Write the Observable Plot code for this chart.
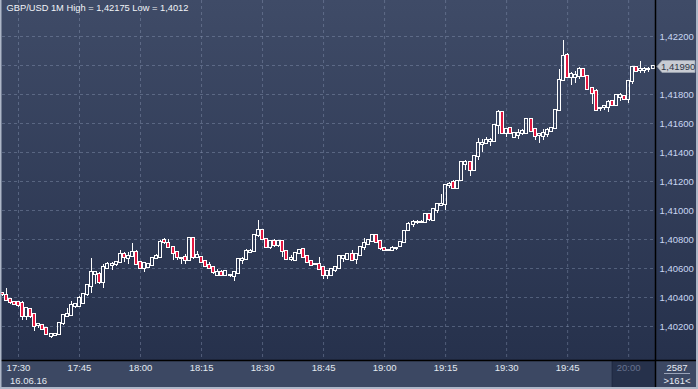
<!DOCTYPE html>
<html><head><meta charset="utf-8">
<script src="https://cdn.jsdelivr.net/npm/d3@7"></script>
<script src="https://cdn.jsdelivr.net/npm/@observablehq/plot@0.6"></script>
<style>
html,body{margin:0;padding:0;background:#3c4863;overflow:hidden;}
#chart{width:698px;height:389px;}
svg{display:block}
</style></head><body><div id="chart"></div>
<script>
const symbolTitle = "GBP/USD 1M High = 1,42175 Low = 1,4012";
const firstCandleMinute = -4; // minutes after 17:30 of the first candle
const openPrices = [
1.40425,1.40413,1.40385,1.40367,1.40365,1.40358,1.40270,1.40316,1.40280,1.40210,
1.40206,1.40183,1.40128,1.40137,1.40146,1.40224,1.40270,1.40275,1.40340,1.40335,
1.40362,1.40422,1.40477,1.40560,1.40560,1.40505,1.40602,1.40620,1.40625,1.40643,
1.40698,1.40671,1.40684,1.40712,1.40643,1.40597,1.40606,1.40620,1.40671,1.40675,
1.40795,1.40774,1.40746,1.40709,1.40668,1.40673,1.40654,1.40806,1.40677,1.40677,
1.40645,1.40622,1.40604,1.40553,1.40572,1.40549,1.40549,1.40544,1.40567,1.40655,
1.40664,1.40710,1.40719,1.40825,1.40861,1.40802,1.40746,1.40783,1.40760,1.40783,
1.40714,1.40660,1.40654,1.40705,1.40728,1.40682,1.40650,1.40627,1.40627,1.40604,
1.40549,1.40555,1.40585,1.40600,1.40666,1.40661,1.40694,1.40661,1.40689,1.40744,
1.40767,1.40786,1.40827,1.40786,1.40740,1.40726,1.40726,1.40740,1.40749,1.40776,
1.40859,1.40905,1.40917,1.40917,1.40919,1.40970,1.40933,1.41002,1.41034,1.41038,
1.41172,1.41190,1.41154,1.41204,1.41319,1.41328,1.41273,1.41374,1.41453,1.41462,
1.41476,1.41476,1.41588,1.41676,1.41528,1.41565,1.41506,1.41515,1.41533,1.41533,
1.41625,1.41556,1.41515,1.41510,1.41524,1.41547,1.41565,1.41690,1.41896,1.42071,
1.41915,1.41920,1.41924,1.41975,1.41924,1.41841,1.41823,1.41703,1.41708,1.41713,
1.41750,1.41727,1.41782,1.41786,1.41768,1.41892,1.41984,1.41966,1.41966,1.41971,
1.41980];
const highPrices = [
1.40436,1.40464,1.40387,1.40369,1.40372,1.40372,1.40323,1.40318,1.40282,1.40224,
1.40208,1.40185,1.40144,1.40155,1.40226,1.40280,1.40321,1.40372,1.40362,1.40408,
1.40428,1.40484,1.40671,1.40579,1.40574,1.40629,1.40638,1.40638,1.40648,1.40726,
1.40707,1.40712,1.40772,1.40721,1.40648,1.40643,1.40632,1.40675,1.40698,1.40795,
1.40809,1.40802,1.40748,1.40712,1.40675,1.40696,1.40810,1.40810,1.40714,1.40680,
1.40648,1.40641,1.40613,1.40590,1.40585,1.40580,1.40553,1.40576,1.40668,1.40677,
1.40728,1.40733,1.40833,1.40930,1.40865,1.40806,1.40792,1.40797,1.40787,1.40787,
1.40717,1.40687,1.40710,1.40733,1.40733,1.40685,1.40653,1.40630,1.40673,1.40608,
1.40580,1.40595,1.40615,1.40685,1.40685,1.40696,1.40721,1.40700,1.40749,1.40804,
1.40800,1.40832,1.40832,1.40790,1.40744,1.40728,1.40749,1.40744,1.40779,1.40860,
1.40919,1.40933,1.40933,1.40928,1.40980,1.40975,1.41010,1.41043,1.41112,1.41176,
1.41190,1.41209,1.41204,1.41332,1.41342,1.41333,1.41379,1.41494,1.41489,1.41503,
1.41494,1.41591,1.41689,1.41680,1.41565,1.41570,1.41533,1.41561,1.41556,1.41630,
1.41630,1.41560,1.41529,1.41561,1.41565,1.41574,1.41694,1.41975,1.42175,1.42085,
1.41952,1.41957,1.41984,1.41980,1.41929,1.41846,1.41832,1.41713,1.41722,1.41759,
1.41754,1.41796,1.41805,1.41791,1.41896,1.41993,1.41989,1.42030,1.41984,1.41989,
1.41992];
const lowPrices = [
1.40408,1.40374,1.40349,1.40347,1.40330,1.40241,1.40238,1.40252,1.40167,1.40188,
1.40169,1.40137,1.40120,1.40128,1.40144,1.40206,1.40264,1.40270,1.40326,1.40328,
1.40358,1.40408,1.40427,1.40491,1.40491,1.40464,1.40592,1.40583,1.40611,1.40634,
1.40638,1.40625,1.40684,1.40620,1.40592,1.40569,1.40602,1.40615,1.40666,1.40666,
1.40767,1.40741,1.40654,1.40654,1.40627,1.40631,1.40650,1.40659,1.40673,1.40636,
1.40608,1.40590,1.40562,1.40549,1.40549,1.40549,1.40539,1.40512,1.40562,1.40631,
1.40654,1.40700,1.40714,1.40815,1.40792,1.40741,1.40728,1.40742,1.40742,1.40673,
1.40655,1.40650,1.40650,1.40700,1.40668,1.40636,1.40613,1.40624,1.40590,1.40526,
1.40526,1.40545,1.40575,1.40595,1.40643,1.40657,1.40655,1.40629,1.40684,1.40726,
1.40758,1.40781,1.40772,1.40721,1.40717,1.40721,1.40717,1.40721,1.40746,1.40772,
1.40855,1.40882,1.40905,1.40910,1.40915,1.40924,1.40928,1.40979,1.41025,1.41002,
1.41149,1.41144,1.41149,1.41200,1.41273,1.41236,1.41269,1.41342,1.41402,1.41453,
1.41439,1.41472,1.41524,1.41524,1.41506,1.41524,1.41501,1.41492,1.41515,1.41528,
1.41543,1.41483,1.41464,1.41483,1.41506,1.41543,1.41561,1.41680,1.41892,1.41910,
1.41864,1.41878,1.41901,1.41915,1.41832,1.41731,1.41685,1.41685,1.41690,1.41676,
1.41722,1.41717,1.41750,1.41764,1.41740,1.41869,1.41952,1.41943,1.41948,1.41952,
1.41975];
const closePrices = [
1.40420,1.40376,1.40367,1.40349,1.40344,1.40270,1.40321,1.40270,1.40201,1.40214,
1.40178,1.40142,1.40142,1.40146,1.40224,1.40275,1.40280,1.40344,1.40353,1.40395,
1.40424,1.40482,1.40569,1.40569,1.40500,1.40606,1.40629,1.40629,1.40638,1.40698,
1.40675,1.40680,1.40707,1.40629,1.40602,1.40634,1.40629,1.40666,1.40684,1.40776,
1.40776,1.40746,1.40705,1.40673,1.40672,1.40654,1.40806,1.40677,1.40691,1.40641,
1.40613,1.40599,1.40572,1.40572,1.40553,1.40576,1.40549,1.40572,1.40664,1.40664,
1.40719,1.40719,1.40829,1.40861,1.40797,1.40746,1.40788,1.40760,1.40783,1.40714,
1.40659,1.40668,1.40705,1.40723,1.40673,1.40641,1.40618,1.40627,1.40595,1.40549,
1.40576,1.40590,1.40610,1.40680,1.40680,1.40694,1.40657,1.40698,1.40744,1.40772,
1.40795,1.40827,1.40781,1.40740,1.40721,1.40726,1.40740,1.40740,1.40776,1.40855,
1.40901,1.40914,1.40919,1.40919,1.40970,1.40937,1.41006,1.41039,1.41043,1.41172,
1.41181,1.41149,1.41200,1.41328,1.41333,1.41273,1.41370,1.41462,1.41462,1.41485,
1.41480,1.41586,1.41676,1.41528,1.41561,1.41528,1.41529,1.41529,1.41542,1.41625,
1.41547,1.41510,1.41524,1.41529,1.41551,1.41565,1.41689,1.41896,1.42062,1.41915,
1.41938,1.41934,1.41975,1.41924,1.41837,1.41809,1.41690,1.41703,1.41717,1.41745,
1.41727,1.41791,1.41791,1.41768,1.41892,1.41984,1.41961,1.41971,1.41971,1.41975,
1.41990];
const priceTicks = [1.402,1.404,1.406,1.408,1.410,1.412,1.414,1.416,1.418,1.420,1.422];
const timeTickMinutes = [0,15,30,45,60,75,90,105,120,135,150];
const timeTickLabels = ["17:30","17:45","18:00","18:15","18:30","18:45","19:00","19:15","19:30","19:45","20:00"];
const dateLabel = "16.06.16";
const lastPrice = 1.41990;
const lastPriceLabel = "1,41990";
const volumeLabel = "2587";
const barCountLabel = ">161<";

const candles = openPrices.map((o, i) => ({
  t: firstCandleMinute + i, o, h: highPrices[i], l: lowPrices[i], c: closePrices[i]
}));
const up = candles.filter(d => d.c >= d.o);
const down = candles.filter(d => d.c < d.o);
// the 1,42000 label is hidden behind the last-price tag in the reference
const labelledTicks = priceTicks.filter(v => Math.abs(v - lastPrice) > 0.0005);
const fmt = v => d3.format(".5f")(v).replace(".", ",");
const FONT = "'Liberation Sans', Arial, sans-serif";

function background(index, scales, values, dims) {
  const fb = dims.height - dims.marginBottom;
  const fr = dims.width - dims.marginRight;
  const bx = scales.x(150) - 16;
  const g = d3.create("svg:g");
  const grad = g.append("defs").append("linearGradient")
    .attr("id", "bgGrad").attr("x1", 0).attr("y1", 0).attr("x2", 0).attr("y2", 1);
  grad.append("stop").attr("offset", 0).attr("stop-color", "#3f4b67");
  grad.append("stop").attr("offset", 1).attr("stop-color", "#26314c");
  g.append("rect").attr("x", 0).attr("y", 0).attr("width", dims.width).attr("height", fb).attr("fill", "url(#bgGrad)");
  g.append("rect").attr("x", 0).attr("y", fb).attr("width", dims.width).attr("height", dims.marginBottom).attr("fill", "#3c4863");
  g.append("rect").attr("x", bx).attr("y", fb).attr("width", fr - bx).attr("height", dims.marginBottom).attr("fill", "#26314b");
  g.append("line").attr("x1", bx).attr("x2", bx).attr("y1", fb).attr("y2", dims.height).attr("stroke", "#1e2840");
  return g.node();
}

function chrome(index, scales, values, dims) {
  const fb = dims.height - dims.marginBottom;
  const fr = dims.width - dims.marginRight;
  const W = dims.width, H = dims.height;
  const yp = Math.round(scales.y(lastPrice)) + 0.5;
  const g = d3.create("svg:g").attr("font-family", FONT).attr("font-size", 9.5);
  g.append("line").attr("x1", 0).attr("x2", W).attr("y1", fb + 0.5).attr("y2", fb + 0.5).attr("stroke", "#000").attr("stroke-width", 1.5);
  g.append("line").attr("x1", fr + 0.5).attr("x2", fr + 0.5).attr("y1", 0).attr("y2", H).attr("stroke", "#000").attr("stroke-width", 1.5);
  g.append("path")
    .attr("d", `M${fr + 2},${yp} L${fr + 7},${yp - 6} L${W - 3},${yp - 6} L${W - 3},${yp + 6} L${fr + 7},${yp + 6} Z`)
    .attr("fill", "#c8ccd3").attr("stroke", "#9ba2ae").attr("stroke-width", 0.8);
  g.append("text").attr("x", fr + 6).attr("y", yp).attr("text-anchor", "start")
    .attr("dominant-baseline", "central").attr("fill", "#2f3747").text(lastPriceLabel);
  g.append("line").attr("x1", fr + 9).attr("x2", W - 8).attr("y1", fb + 13.5).attr("y2", fb + 13.5)
    .attr("stroke", "#9aa4b8");
  g.append("rect").attr("x", 0).attr("y", 0).attr("width", 1.5).attr("height", H).attr("fill", "#aeb7c8");
  g.append("rect").attr("x", W - 2).attr("y", 0).attr("width", 2).attr("height", H).attr("fill", "#aeb7c8");
  g.append("rect").attr("x", 0).attr("y", H - 2).attr("width", W).attr("height", 2).attr("fill", "#aeb7c8");
  return g.node();
}

const gridStyle = {stroke: "#8d9ab8", strokeOpacity: 0.42, strokeDasharray: "3,3", strokeWidth: 1};
const label = {fontSize: 9.5, lineAnchor: "middle"};

const chart = Plot.plot({
  width: 698,
  height: 389,
  marginLeft: 2,
  marginRight: 43,
  marginTop: 0,
  marginBottom: 29,
  style: {background: "transparent", fontFamily: FONT},
  x: {type: "linear", domain: [-3.93, 156.6], axis: null},
  y: {type: "linear", domain: [1.399655, 1.424483], axis: null},
  marks: [
    background,
    Plot.ruleY(priceTicks, {...gridStyle, y: d => d}),
    Plot.ruleX(timeTickMinutes, {...gridStyle, x: d => d}),
    Plot.ruleX(candles, {x: "t", y1: "h", y2: d => Math.max(d.o, d.c), stroke: "#ffffff", strokeWidth: 1, shapeRendering: "crispEdges"}),
    Plot.ruleX(candles, {x: "t", y1: d => Math.min(d.o, d.c), y2: "l", stroke: "#ffffff", strokeWidth: 1, shapeRendering: "crispEdges"}),
    Plot.rect(up, {x1: d => d.t - 0.37, x2: d => d.t + 0.37, y1: "o", y2: "c", fill: "none", stroke: "#ffffff", strokeWidth: 1, insetTop: -0.5, insetBottom: -0.5, shapeRendering: "crispEdges"}),
    Plot.rect(down, {x1: d => d.t - 0.37, x2: d => d.t + 0.37, y1: "o", y2: "c", fill: "#e3173f", stroke: "#ffffff", strokeWidth: 1, insetTop: -0.5, insetBottom: -0.5, shapeRendering: "crispEdges"}),
    Plot.text([symbolTitle], {...label, frameAnchor: "top-left", dx: 4, dy: 8, text: d => d, textAnchor: "start", fill: "#f2f4f8", fontSize: 9.3}),
    Plot.text(labelledTicks, {...label, y: d => d, frameAnchor: "right", dx: 4, text: d => fmt(d), textAnchor: "start", fill: "#c9d6f2"}),
    Plot.text(timeTickMinutes.slice(0, -1), {...label, x: d => d, frameAnchor: "bottom", dy: 7, textAnchor: "middle", text: (d, i) => timeTickLabels[i], fill: "#e3e8f0"}),
    Plot.text(timeTickMinutes.slice(-1), {...label, x: d => d, frameAnchor: "bottom", dy: 7, textAnchor: "middle", text: () => timeTickLabels[timeTickLabels.length - 1], fill: "#66728e"}),
    Plot.text([timeTickMinutes[0]], {...label, x: d => d, frameAnchor: "bottom", dx: 10, dy: 20, textAnchor: "middle", text: () => dateLabel, fill: "#e3e8f0"}),
    chrome,
    Plot.text([volumeLabel], {...label, frameAnchor: "bottom-right", dx: 21.5, dy: 7.5, textAnchor: "middle", text: d => d, fill: "#e8ecf3"}),
    Plot.text([barCountLabel], {...label, frameAnchor: "bottom-right", dx: 21.5, dy: 20, textAnchor: "middle", text: d => d, fill: "#e8ecf3"})
  ]
});
document.getElementById("chart").appendChild(chart);
</script>
</body></html>
